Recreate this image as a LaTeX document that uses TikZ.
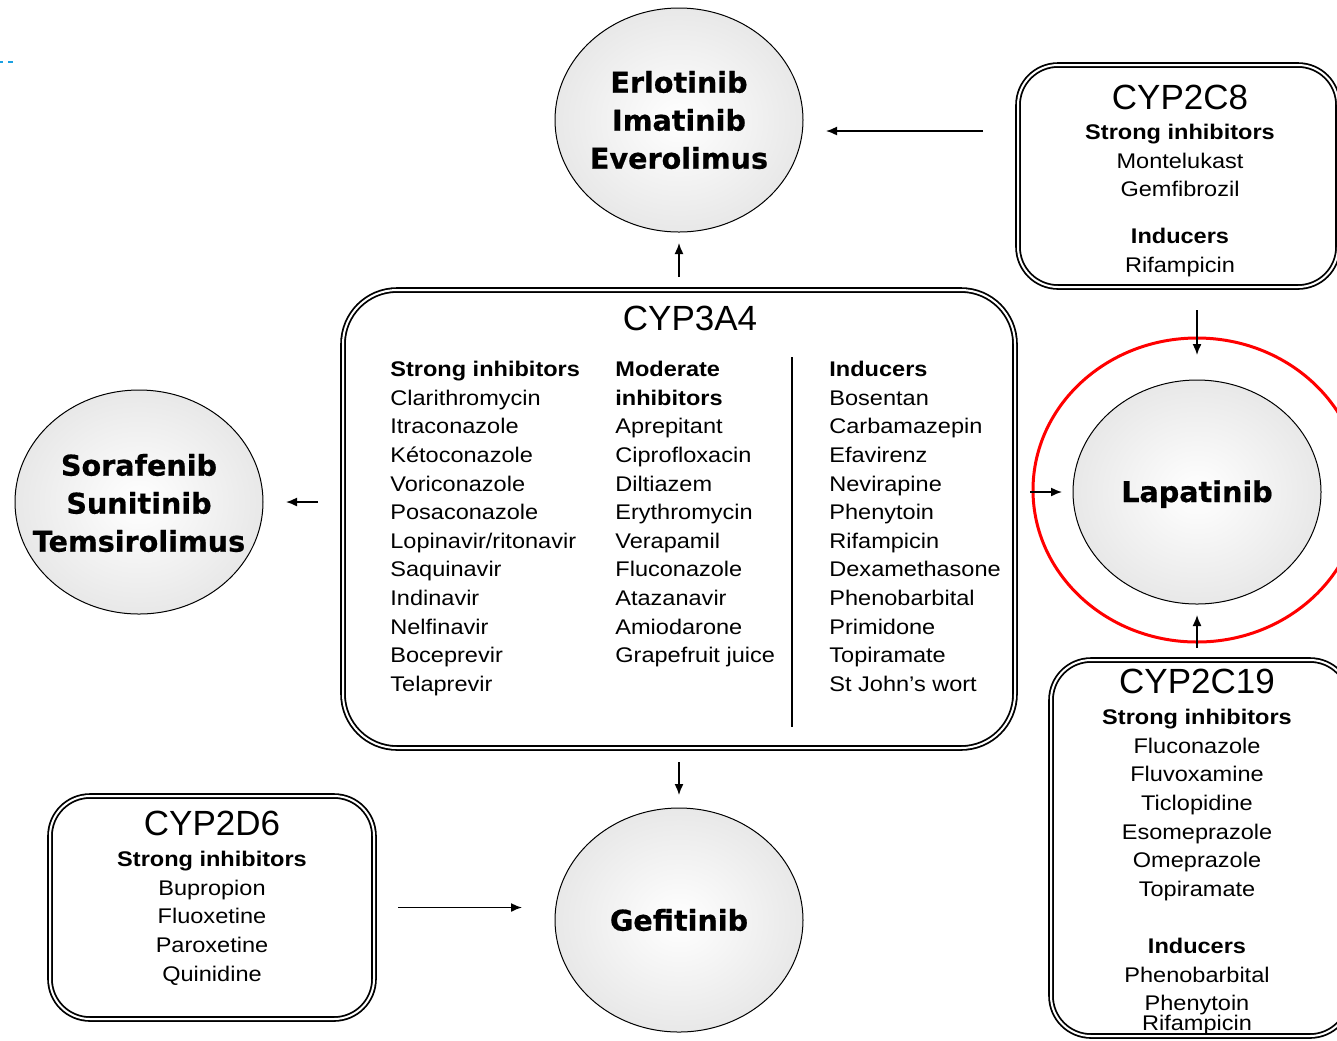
\documentclass[tikz,border=0pt]{standalone}
\usepackage{fontspec}
\setmainfont{Liberation Sans}
\newfontfamily\listfont{Liberation Sans}[FakeStretch=1.11]
\newfontfamily\drugfont{DejaVu Sans}[BoldFeatures={FakeBold=0.6}]
\usepackage{tikz}
\usetikzlibrary{arrows,arrows.meta,shapes.geometric,positioning}

\definecolor{dashblue}{HTML}{1BA1E2}

\tikzset{
  cyp/.style={draw, double, double distance=1pt, line width=0.9pt,
    rounded corners=20pt, inner sep=0pt, outer sep=0pt},
  drug/.style={draw, ellipse, line width=0.5pt, inner color=white,
    outer color=black!9, minimum width=124pt, minimum height=112pt,
    inner sep=0pt, outer sep=0pt},
  drugtxt/.style={font=\drugfont\bfseries\fontsize{14.3pt}{19pt}\selectfont,
    align=center, inner sep=0pt},
  ring/.style={draw=red, line width=1.5pt, ellipse, minimum width=164pt,
    minimum height=152pt, inner sep=0pt},
  title/.style={font=\fontsize{17.5pt}{20pt}\selectfont, inner sep=0pt},
  lst/.style={font=\listfont\fontsize{10.6pt}{14.3pt}\selectfont, inner sep=0pt},
  arr/.style={-{Latex[length=5.5pt,width=4.5pt]}, line width=0.75pt}
}

\begin{document}
\begin{tikzpicture}[x=0.5pt, y=-0.5pt]
  \useasboundingbox (0,0) rectangle (1337,1040);
  \clip (0,0) rectangle (1337,1040);

  \draw[dashblue, line width=1pt, dash pattern=on 2.5pt off 2.5pt, dash phase=1pt] (0,62) -- (14,62);

  % drugs
  \node[drug] (erlo) at (679,120) {};
  \node[drugtxt] at (erlo) {Erlotinib\\Imatinib\\Everolimus};
  \node[drug] (sora) at (139,502) {};
  \node[drugtxt] at (139,503) {Sorafenib\\Sunitinib\\Temsirolimus};
  \node[drug] (lapa) at (1197,492) {};
  \node[drugtxt, anchor=base] at ([yshift=-5pt]lapa.center) {Lapatinib};
  \node[drug] (gefi) at (679,920) {};
  \node[drugtxt] at (gefi) {Gefitinib};
  \node[ring] (hilite) at (1197,490) {}; % highlight

  % CYP3A4
  \node[cyp, rounded corners=27pt, minimum width=336pt, minimum height=229pt] (cyp3a4) at (679,519) {};
  \node[title] at (690,318) {CYP3A4};
  \node[lst, anchor=north west, align=left] (strong) at (390,361) {\textbf{Strong inhibitors}\\Clarithromycin\\Itraconazole\\Kétoconazole\\Voriconazole\\Posaconazole\\Lopinavir/ritonavir\\Saquinavir\\Indinavir\\Nelfinavir\\Boceprevir\\Telaprevir};
  \node[lst, anchor=north west, align=left] (moder) at (615,361) {\textbf{Moderate}\\\textbf{inhibitors}\\Aprepitant\\Ciprofloxacin\\Diltiazem\\Erythromycin\\Verapamil\\Fluconazole\\Atazanavir\\Amiodarone\\Grapefruit juice};
  \node[lst, anchor=north west, align=left] (induc) at (829,361) {\textbf{Inducers}\\Bosentan\\Carbamazepin\\Efavirenz\\Nevirapine\\Phenytoin\\Rifampicin\\Dexamethasone\\Phenobarbital\\Primidone\\Topiramate\\St John’s wort};
  \draw[line width=0.75pt] (792,357) -- (792,727);

  % CYP2C8
  \node[cyp, minimum width=160pt, minimum height=111pt] (cyp2c8) at (1178,176) {};
  \node[title] at (1180,97) {CYP2C8};
  \node[lst, anchor=north, align=center] at (1180,124) {\textbf{Strong inhibitors}\\Montelukast\\Gemfibrozil\\[9pt]\textbf{Inducers}\\Rifampicin};

  % CYP2D6
  \node[cyp, minimum width=162pt, minimum height=111.5pt] (cyp2d6) at (212,907.5) {};
  \node[title] at (212,823) {CYP2D6};
  \node[lst, anchor=north, align=center] at (212,851) {\textbf{Strong inhibitors}\\Bupropion\\Fluoxetine\\Paroxetine\\Quinidine};

  % CYP2C19
  \node[cyp, minimum width=149.5pt, minimum height=188pt] (cyp2c19) at (1200.5,848) {};
  \node[title] at (1197,681) {CYP2C19};
  \node[lst, anchor=north, align=center] at (1197,709) {\textbf{Strong inhibitors}\\Fluconazole\\Fluvoxamine\\Ticlopidine\\Esomeprazole\\Omeprazole\\Topiramate\\[14.3pt]\textbf{Inducers}\\Phenobarbital\\Phenytoin\\[-4.3pt]Rifampicin};

  % arrows
  \coordinate (e8) at ([yshift=-5.5pt]erlo.east);
  \draw[arr, shorten <=6.5pt, shorten >=5.5pt] (cyp3a4.north) -- (erlo.south);
  \draw[arr, shorten <=17.5pt, shorten >=11.5pt] (cyp2c8.west |- e8) -- (e8);
  \draw[arr, shorten <=12.5pt, shorten >=11.5pt] (cyp3a4.west |- sora.east) -- (sora.east);
  \draw[arr, shorten <=7.5pt, shorten >=5.5pt] (cyp3a4.east |- lapa.west) -- (lapa.west);
  \draw[arr, shorten <=11.5pt, shorten >=12.5pt] (lapa.north |- cyp2c8.south) -- (lapa.north);
  \draw[arr, shorten <=6pt, shorten >=5.5pt] (lapa.south |- cyp2c19.north) -- (lapa.south);
  \draw[arr, shorten <=7pt, shorten >=6.5pt] (cyp3a4.south) -- (gefi.north);
  \draw[arr, shorten <=12pt, shorten >=16.5pt] (cyp2d6.east) -- (gefi.west |- cyp2d6.east);
\end{tikzpicture}
\end{document}
